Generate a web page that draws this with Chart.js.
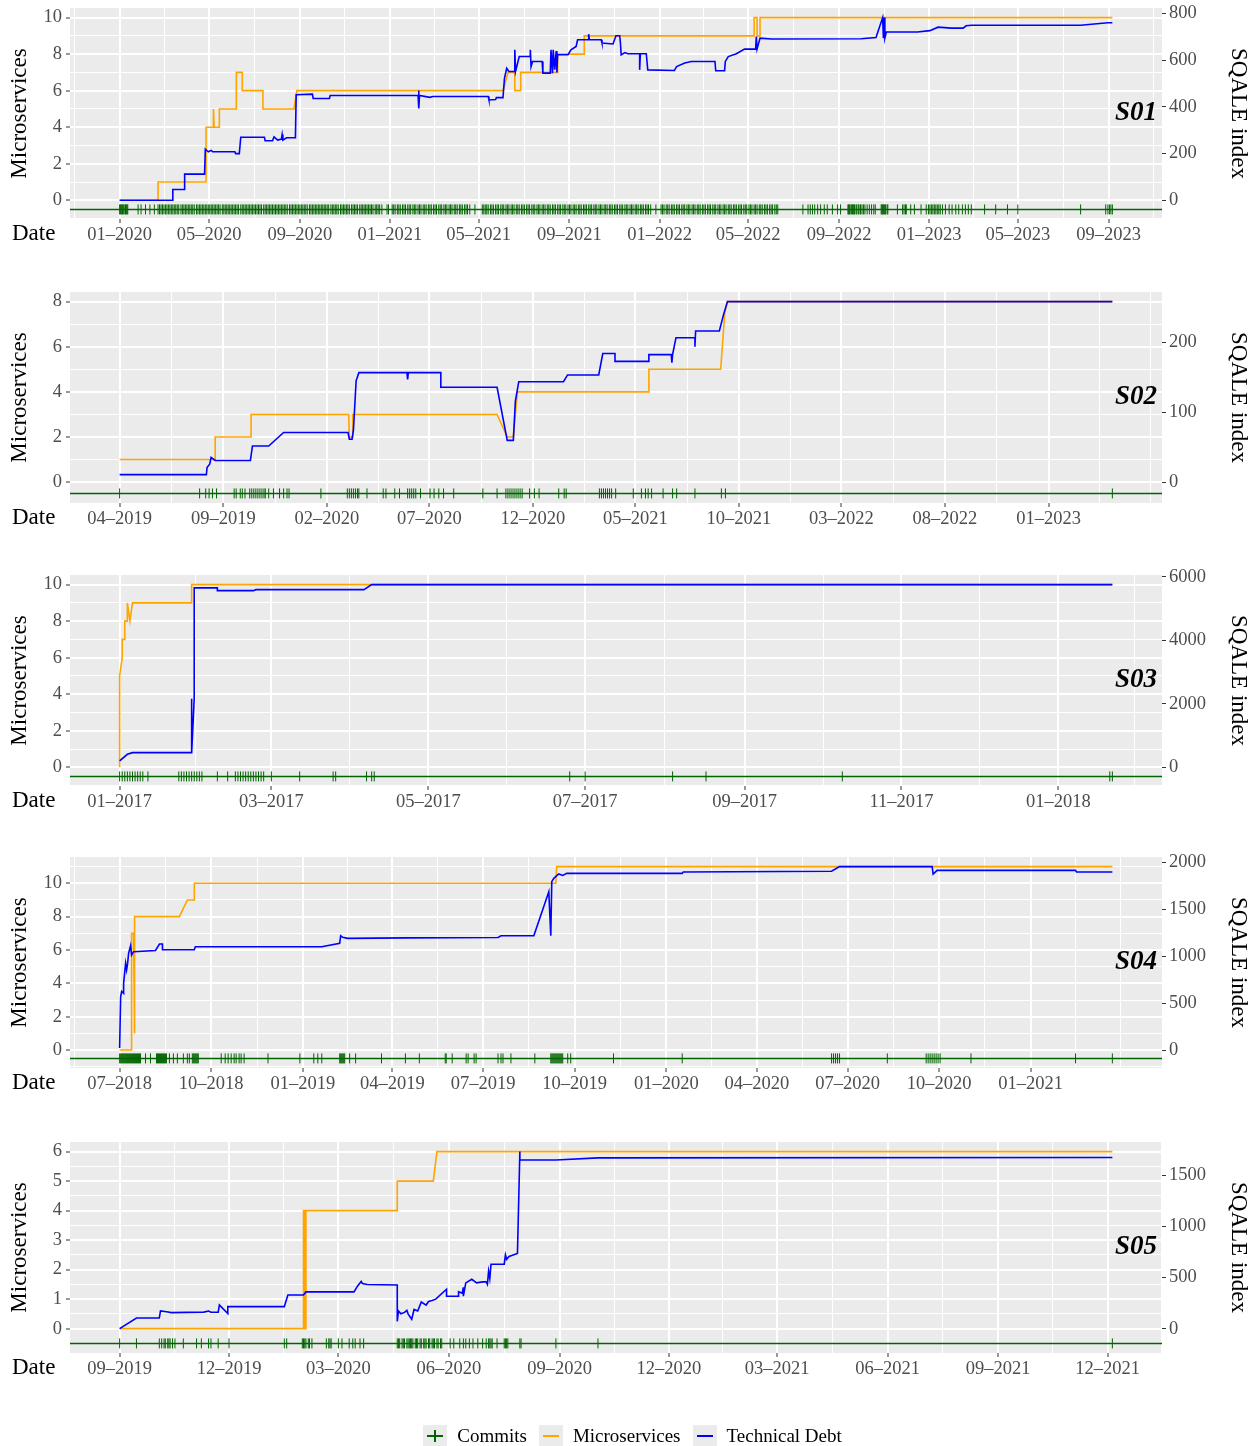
<!DOCTYPE html>
<html>
<head>
<meta charset="utf-8">
<script src="https://cdn.jsdelivr.net/npm/chart.js@4.4.0/dist/chart.umd.min.js"></script>
<style>
  body { margin: 0; background: #fff; width: 1260px; height: 1446px; position: relative; overflow: hidden; font-family: "Liberation Serif", "Times New Roman", serif; }
  canvas { position: absolute; left: 0; }
  #legend { position: absolute; top: 1425px; left: 0; width: 1265px; display: flex; justify-content: center; align-items: center; font-size: 19px; color: #000; }
  .item { display: flex; align-items: center; margin: 0 6px; }
  .key { position: relative; width: 24px; height: 22px; background: #EBEBEB; margin-right: 10px; }
  .key .h { position: absolute; left: 4px; top: 10px; width: 16px; height: 2px; }
  .key .v { position: absolute; left: 11px; top: 5px; width: 2px; height: 12px; background: #006400; }
</style>
</head>
<body>
<canvas id="c1" width="1260" height="284" style="top:0px"></canvas>
<canvas id="c2" width="1260" height="284" style="top:284px"></canvas>
<canvas id="c3" width="1260" height="284" style="top:567px"></canvas>
<canvas id="c4" width="1260" height="284" style="top:849px"></canvas>
<canvas id="c5" width="1260" height="284" style="top:1134px"></canvas>
<div id="legend">
  <div class="item"><div class="key"><div class="h" style="background:#006400"></div><div class="v"></div></div>Commits</div>
  <div class="item"><div class="key"><div class="h" style="background:#FFA500"></div></div>Microservices</div>
  <div class="item"><div class="key"><div class="h" style="background:#0000FF"></div></div>Technical Debt</div>
</div>
<script>
// ---- S01 ----
const s01Micro = [['2020-01-01',0],['2020-02-22',0],['2020-02-22',1],['2020-04-27',1],['2020-04-27',4],['2020-05-07',4],['2020-05-07',5],['2020-05-08',4],['2020-05-15',4],['2020-05-15',5],['2020-06-07',5],['2020-06-07',7],['2020-06-15',7],['2020-06-15',6],['2020-07-13',6],['2020-07-13',5],['2020-08-24',5],['2020-08-28',6],['2021-06-03',6],['2021-06-10',7],['2021-06-19',7],['2021-06-19',6],['2021-06-27',6],['2021-06-27',7],['2021-08-16',7],['2021-08-16',8],['2021-09-21',8],['2021-09-21',9],['2022-05-09',9],['2022-05-09',10],['2022-05-13',10],['2022-05-13',9],['2022-05-17',9],['2022-05-17',10],['2023-09-06',10]];
const s01Debt = [['2020-01-01',0],['2020-03-13',0],['2020-03-13',46],['2020-03-29',46],['2020-03-29',112],['2020-04-25',112],['2020-04-26',219],['2020-04-30',208],['2020-05-04',214],['2020-05-06',208],['2020-06-05',208],['2020-06-06',200],['2020-06-11',200],['2020-06-13',270],['2020-07-15',270],['2020-07-16',255],['2020-07-26',255],['2020-07-28',272],['2020-08-02',258],['2020-08-07',262],['2020-08-08',282],['2020-08-09',258],['2020-08-14',268],['2020-08-26',268],['2020-08-27',452],['2020-09-18',455],['2020-09-19',436],['2020-10-11',436],['2020-10-12',449],['2021-02-08',449],['2021-02-09',470],['2021-02-09',394],['2021-02-10',449],['2021-02-24',441],['2021-02-28',445],['2021-05-14',445],['2021-05-15',430],['2021-05-24',432],['2021-05-25',440],['2021-06-03',440],['2021-06-05',523],['2021-06-08',566],['2021-06-11',552],['2021-06-18',552],['2021-06-19',645],['2021-06-20',552],['2021-06-25',616],['2021-07-10',616],['2021-07-10',645],['2021-07-11',573],['2021-07-13',595],['2021-07-26',595],['2021-07-27',545],['2021-08-06',545],['2021-08-07',645],['2021-08-09',545],['2021-08-10',645],['2021-08-12',560],['2021-08-14',640],['2021-08-15',548],['2021-08-16',624],['2021-08-30',624],['2021-09-03',645],['2021-09-10',659],['2021-09-12',688],['2021-09-27',688],['2021-09-27',712],['2021-09-28',688],['2021-10-14',688],['2021-10-15',674],['2021-10-30',670],['2021-11-01',688],['2021-11-03',705],['2021-11-08',705],['2021-11-09',674],['2021-11-10',623],['2021-11-15',633],['2021-11-19',628],['2021-12-05',628],['2021-12-05',559],['2021-12-06',628],['2021-12-14',628],['2021-12-16',559],['2022-01-21',556],['2022-01-24',573],['2022-02-04',588],['2022-02-13',595],['2022-03-17',595],['2022-03-18',555],['2022-03-30',555],['2022-03-31',595],['2022-04-04',616],['2022-04-15',628],['2022-04-26',648],['2022-05-11',648],['2022-05-12',702],['2022-05-13',648],['2022-05-17',695],['2022-06-01',691],['2022-10-01',692],['2022-10-21',698],['2022-10-30',783],['2022-10-31',695],['2022-11-01',783],['2022-11-02',695],['2022-11-04',721],['2022-12-16',721],['2023-01-02',727],['2023-01-13',742],['2023-01-31',738],['2023-02-16',738],['2023-02-20',748],['2023-02-27',750],['2023-07-25',750],['2023-08-31',761],['2023-09-06',761]];
const s01Commits = ['2020-01: 1 2 3 4 5 6 8 9 10 11 12 26 30','2020-02: 5 11 17 22 24 26 28','2020-03: 1 3 5 7 9 11 13 15 17 19 21 24 26 28 30','2020-04: 1 3 5 7 9 11 14 16 18 20 22 24 26 28 30','2020-05: 2 4 6 8 10 12 14 16 19 21 23 25 27 29 31','2020-06: 2 4 6 8 10 13 15 17 19 21 23 25 27 29','2020-07: 1 3 5 7 9 11 14 16 18 20 22 24 26 28 30','2020-08: 1 3 5 7 9 11 13 15 18 20 22 24 26 28 30','2020-09: 1 3 5 7 9 11 14 16 18 20 22 24 26 28 30','2020-10: 2 4 6 8 10 13 15 17 19 21 23 26 28 30','2020-11: 1 3 5 7 10 12 14 16 18 21 23 25 27 29','2020-12: 1 3 5 7 9 12 14 16 18 21 28 30','2021-01: 4 6 8 11 13 15 18 20 22 25 27 29','2021-02: 1 3 5 8 10 12 15 17 19 22 24 26','2021-03: 1 3 5 8 10 12 15 17 19 22 24 26 29 31','2021-04: 2 5 7 9 12 14 16 19 26','2021-05: 6 8 10 12 14 17 19 21 24 26 28 31','2021-06: 2 4 7 9 11 14 16 18 21 23 25 28 30','2021-07: 2 5 7 9 12 14 16 19 21 23 26 28 30','2021-08: 2 4 6 9 11 13 16 18 20 23 25 27 30','2021-09: 1 3 6 8 10 13 15 17 20 22 24 27 29','2021-10: 1 4 6 8 11 13 15 18 20 22 25 27 29','2021-11: 1 3 5 8 10 12 15 17 19 22 24 26 29','2021-12: 1 3 6 8 10 13 15 17 20 27','2022-01: 3 5 7 10 12 14 17 19 21 24 26 28 31','2022-02: 2 4 7 9 11 14 16 18 21 23 25 28','2022-03: 2 4 7 9 11 14 16 18 21 23 25 28 30','2022-04: 1 4 6 8 11 13 15 18 20 22 25 27 29','2022-05: 2 4 6 9 11 13 16 18 20 23 25 27 30','2022-06: 1 3 6 8 10','2022-07: 14 21 24 27 30','2022-08: 3 7 12 16 23 30','2022-09: 3 13 14 15 16 18 19 20 21 22 24 25 27 28 30','2022-10: 2 4 6 9 12 15 18 20 28 29 30 31','2022-11: 1 2 3 5 6 19 26 28 30','2022-12: 1 7 12 21 28 31','2023-01: 2 4 6 8 10 12 14 16 19 23 28','2023-02: 1 6 10 15 19 23 27','2023-03: 17','2023-04: 1 17','2023-05: 1','2023-07: 25','2023-08: 28 31','2023-09: 2 4 6'];

// ---- S02 ----
const s02Micro = [['2019-04-01',1],['2019-08-20',1],['2019-08-20',2],['2019-10-12',2],['2019-10-12',3],['2020-03-04',3],['2020-03-05',2],['2020-03-09',2],['2020-03-10',3],['2020-10-09',3],['2020-10-24',2],['2020-11-02',2],['2020-11-08',4],['2021-05-21',4],['2021-05-21',5],['2021-09-04',5],['2021-09-10',7.5],['2021-09-14',8],['2023-04-05',8]];
const s02Debt = [['2019-04-01',10.7],['2019-08-07',10.7],['2019-08-08',21],['2019-08-12',26],['2019-08-14',35.5],['2019-08-20',31],['2019-10-11',31],['2019-10-14',51.7],['2019-11-07',51.7],['2019-11-29',71],['2020-03-03',71],['2020-03-05',61.4],['2020-03-09',61.4],['2020-03-11',74.3],['2020-03-15',145],['2020-03-19',156.7],['2020-05-29',156.7],['2020-05-30',147],['2020-05-31',156.7],['2020-07-18',156.7],['2020-07-18',135.7],['2020-10-09',135.7],['2020-10-24',59.8],['2020-11-02',59.8],['2020-11-05',116],['2020-11-10',143.7],['2021-01-15',143.7],['2021-01-21',153.4],['2021-03-08',153.4],['2021-03-14',184],['2021-04-01',184],['2021-04-01',172.8],['2021-05-21',172.8],['2021-05-21',182.5],['2021-06-23',182.5],['2021-06-24',171],['2021-06-25',182.5],['2021-06-30',206.7],['2021-07-28',206.7],['2021-07-28',193.8],['2021-07-29',216.4],['2021-09-02',216.4],['2021-09-08',239],['2021-09-14',258.4],['2023-04-05',258.4]];
const s02Commits = ['2019-04: 1','2019-07: 28','2019-08: 6 11 16 22','2019-09: 17 20 26 29','2019-10: 3 10 13 16 19 22 25 28 31','2019-11: 2 7 14 23 29','2019-12: 4 7','2020-01: 23','2020-03: 2 5 8 11 14 17 19 31','2020-04: 24 28','2020-05: 11 18 30','2020-06: 2 5 8 11 18','2020-07: 2 8 15 22','2020-08: 6','2020-09: 18','2020-10: 9 22 25 28 31','2020-11: 3 6 9 12 15 26','2020-12: 3 10','2021-01: 8 16 19','2021-03: 9 12 15 18 21 24 27','2021-04: 2 28','2021-05: 10 16 20 25','2021-06: 11 25','2021-07: 1 28','2021-09: 5 11','2023-04: 5'];

// ---- S03 ----
const s03Micro = [['2017-01-01',0],['2017-01-01',5],['2017-01-02',6],['2017-01-02',7],['2017-01-03',7],['2017-01-03',8],['2017-01-04',8],['2017-01-04',9],['2017-01-05',8],['2017-01-06',9],['2017-01-29',9],['2017-01-29',10],['2018-01-22',10]];
const s03Debt = [['2017-01-01',201],['2017-01-04',408],['2017-01-06',460],['2017-01-29',460],['2017-01-29',2156],['2017-01-29',460],['2017-01-30',2156],['2017-01-30',5647],['2017-02-08',5647],['2017-02-08',5560],['2017-02-22',5560],['2017-02-23',5590],['2017-04-06',5590],['2017-04-09',5750],['2018-01-22',5750]];
const s03Commits = ['2017-01: 1 2 3 4 5 6 7 8 9 10 12 24 25 26 27 28 29 30 31','2017-02: 1 2 8 12 15 16 17 18 19 20 21 22 23 24 25 26','2017-03: 1 12 25 26','2017-04: 7 9 10','2017-06: 25','2017-07: 1','2017-08: 4 17','2017-10: 9','2018-01: 21 22'];

// ---- S04 ----
const s04Micro = [['2018-07-01',0],['2018-07-13',0],['2018-07-13',7],['2018-07-15',7],['2018-07-16',1],['2018-07-16',8],['2018-08-30',8],['2018-09-07',9],['2018-09-14',9],['2018-09-14',10],['2019-09-12',10],['2019-09-13',11],['2021-03-24',11]];
const s04Debt = [['2018-07-01',21],['2018-07-02',568],['2018-07-03',625],['2018-07-05',604],['2018-07-05',710],['2018-07-07',923],['2018-07-08',853],['2018-07-09',923],['2018-07-10',1030],['2018-07-12',1112],['2018-07-13',1012],['2018-07-15',1048],['2018-08-06',1060],['2018-08-10',1130],['2018-08-13',1130],['2018-08-13',1069],['2018-09-14',1069],['2018-09-15',1101],['2019-01-20',1101],['2019-02-07',1137],['2019-02-08',1218],['2019-02-10',1201],['2019-02-15',1190],['2019-04-15',1195],['2019-07-16',1199],['2019-07-19',1218],['2019-08-21',1218],['2019-09-05',1687],['2019-09-07',1218],['2019-09-08',1794],['2019-09-10',1829],['2019-09-15',1875],['2019-09-19',1860],['2019-09-23',1882],['2020-01-17',1882],['2020-01-18',1897],['2020-06-15',1904],['2020-06-23',1954],['2020-09-24',1954],['2020-09-25',1875],['2020-09-29',1914],['2021-02-15',1914],['2021-02-16',1897],['2021-03-24',1897]];
const s04Commits = ['2018-07: 1 2 3 4 5 6 7 8 9 10 11 12 13 14 15 16 17 18 19 20 21 22 27','2018-08: 1 7 8 9 10 11 12 13 14 15 16 17 20 24 28','2018-09: 3 7 9 12 13 14 15 16 17 18','2018-10: 11 15 18 21 24 26 29 31','2018-11: 3 27','2018-12: 29','2019-01: 12 16 20','2019-02: 7 8 9 10 11 12 17 23','2019-03: 21','2019-04: 14 28','2019-05: 24 25 31','2019-06: 14 16 22 24','2019-07: 16 19 21 29','2019-08: 22','2019-09: 7 8 9 10 11 12 13 14 15 16 17 18 19 24 27','2019-11: 9','2020-01: 17','2020-06: 15 17 19 21 23','2020-08: 10','2020-09: 18 20 22 24 26 28 30','2020-10: 2','2020-11: 2','2021-02: 15','2021-03: 24'];

// ---- S05 ----
const s05Micro = [['2019-09-01',0],['2020-02-01',0],['2020-02-01',4],['2020-02-02',4],['2020-02-02',0],['2020-02-03',0],['2020-02-03',4],['2020-04-19',4],['2020-04-19',5],['2020-05-19',5],['2020-05-22',6],['2021-12-05',6]];
const s05Debt = [['2019-09-01',0],['2019-09-15',104],['2019-10-04',104],['2019-10-05',173],['2019-10-10',165],['2019-10-14',157],['2019-11-10',162],['2019-11-14',173],['2019-11-16',160],['2019-11-22',160],['2019-11-23',232],['2019-11-30',147],['2019-11-30',216],['2020-01-16',216],['2020-01-19',330],['2020-02-01',330],['2020-02-03',360],['2020-03-14',360],['2020-03-17',419],['2020-03-20',462],['2020-03-21',442],['2020-03-25',433],['2020-04-19',428],['2020-04-19',72],['2020-04-20',173],['2020-04-22',145],['2020-04-25',159],['2020-04-27',179],['2020-04-28',145],['2020-05-01',92],['2020-05-03',188],['2020-05-06',173],['2020-05-09',261],['2020-05-13',231],['2020-05-15',266],['2020-05-18',275],['2020-05-21',289],['2020-05-30',386],['2020-05-30',318],['2020-06-09',318],['2020-06-09',361],['2020-06-12',347],['2020-06-13',405],['2020-06-13',318],['2020-06-15',448],['2020-06-20',483],['2020-06-24',448],['2020-06-29',458],['2020-07-02',458],['2020-07-03',434],['2020-07-04',563],['2020-07-05',491],['2020-07-06',631],['2020-07-17',631],['2020-07-18',723],['2020-07-19',679],['2020-07-21',707],['2020-07-28',736],['2020-07-30',1734],['2020-07-30',1652],['2020-08-29',1652],['2020-10-03',1672],['2021-12-05',1676]];
const s05Commits = ['2019-09: 1 15','2019-10: 4 6 8 9 11 12 13 15 17 24','2019-11: 4 8 14 16 22','2019-12: 1','2020-01: 16 18 31','2020-02: 1 2 3 5 6 8 20 22 23 24','2020-03: 1 4 10 13 15 19 22','2020-04: 19 20 21 23 24 25 27 28 29 30','2020-05: 1 2 4 5 6 8 9 11 12 13 15 16 18 19 20 22 23 25 26','2020-06: 2 5 10 13 15 18 21 25 29','2020-07: 2 4 5 6 7 11 17 18 19 20 30 31','2020-08: 29','2020-10: 3','2021-12: 5'];

const panels = [
  { id: 'c1', name: 'S01', micro: s01Micro, debt: s01Debt, commits: s01Commits, firstTick: [2020, 1], monthStep: 4, yStep: 2, rStep: 200 },
  { id: 'c2', name: 'S02', micro: s02Micro, debt: s02Debt, commits: s02Commits, firstTick: [2019, 4], monthStep: 5, yStep: 2, rStep: 100 },
  { id: 'c3', name: 'S03', micro: s03Micro, debt: s03Debt, commits: s03Commits, firstTick: [2017, 1], monthStep: 2, yStep: 2, rStep: 2000 },
  { id: 'c4', name: 'S04', micro: s04Micro, debt: s04Debt, commits: s04Commits, firstTick: [2018, 7], monthStep: 3, yStep: 2, rStep: 500 },
  { id: 'c5', name: 'S05', micro: s05Micro, debt: s05Debt, commits: s05Commits, firstTick: [2019, 9], monthStep: 3, yStep: 1, rStep: 500 }
];

Chart.defaults.font.family = '"Liberation Serif", "Times New Roman", serif';
Chart.defaults.animation = false;

function toDay(s) {
  const [y, m, d] = s.split('-').map(Number);
  return Date.UTC(y, m - 1, d) / 864e5;
}
function fmtMonth(day) {
  const dt = new Date(day * 864e5);
  return String(dt.getUTCMonth() + 1).padStart(2, '0') + '\u2013' + dt.getUTCFullYear();
}
function expandCommits(rows) {
  const out = [];
  rows.forEach(r => {
    const [ym, days] = r.split(':');
    days.trim().split(/\s+/).forEach(d => out.push(toDay(ym + '-' + d)));
  });
  return out;
}

// labelled ticks every n months inside the data span, thin lines half way and beyond it
function monthTicks(scale, first, step, lo, hi) {
  const majors = [];
  for (let i = -4; i < 40; i++) majors.push(Date.UTC(first[0], first[1] - 1 + i * step, 1) / 864e5);
  const ticks = [];
  majors.forEach((v, i) => {
    if (i > 0) {
      const mid = (v + majors[i - 1]) / 2;
      if (mid >= scale.min && mid <= scale.max) ticks.push({ value: mid, minor: true });
    }
    if (v >= scale.min && v <= scale.max) ticks.push({ value: v, minor: v < lo || v > hi });
  });
  scale.ticks = ticks;
}
function numTicks(scale, step, withMinor) {
  const ticks = [];
  const h = withMinor ? step / 2 : step;
  for (let i = Math.ceil(scale.min / h); i <= Math.floor(scale.max / h); i++) {
    ticks.push({ value: i * h, minor: withMinor && Math.abs(i % 2) === 1 });
  }
  scale.ticks = ticks;
}

const gridOpts = {
  color: '#FFFFFF',
  lineWidth: c => (c.tick && c.tick.minor ? 1 : 2),
  tickColor: c => (c.tick && c.tick.minor ? 'rgba(0,0,0,0)' : '#333333'),
  tickWidth: 1,
  tickLength: 4
};
const tickFont = { size: 18.5 };
const labelOf = (v, i, t) => (t[i].minor ? '' : String(v));

const panelDecor = {
  id: 'panelDecor',
  beforeDraw(chart) {
    const { ctx, chartArea: a } = chart;
    ctx.save();
    ctx.fillStyle = '#EBEBEB';
    ctx.fillRect(a.left, a.top, a.right - a.left, a.bottom - a.top);
    ctx.restore();
  },
  afterDraw(chart, args, opts) {
    const { ctx, chartArea: a } = chart;
    ctx.save();
    ctx.fillStyle = '#000';
    ctx.font = 'italic bold 27px "Liberation Serif"';
    ctx.textAlign = 'right';
    ctx.textBaseline = 'middle';
    ctx.fillText(opts.name, a.right - 5, (a.top + a.bottom) / 2);
    ctx.font = '23px "Liberation Serif"';
    ctx.textAlign = 'left';
    ctx.fillText('Date', 12, a.bottom + 15);
    ctx.restore();
  }
};

function buildPanel(p) {
  const micro = p.micro.map(([d, v]) => ({ x: toDay(d), y: v }));
  const debt = p.debt.map(([d, v]) => ({ x: toDay(d), y: v }));
  const commits = expandCommits(p.commits).map(x => ({ x: x, y: -0.5 }));
  const xs = micro.concat(debt, commits).map(pt => pt.x);
  const lo = Math.min(...xs), hi = Math.max(...xs);
  const xMin = lo - (hi - lo) * 0.05, xMax = hi + (hi - lo) * 0.05;
  const top = Math.max(...micro.map(pt => pt.y));
  const k = Math.max(...debt.map(pt => pt.y)) / top;
  const yMin = -0.5 - (top + 0.5) * 0.05, yMax = top + (top + 0.5) * 0.05;

  new Chart(document.getElementById(p.id), {
    type: 'line',
    data: {
      datasets: [
        { label: 'Commits line', data: [{ x: xMin, y: -0.5 }, { x: xMax, y: -0.5 }], borderColor: '#006400', borderWidth: 1.5, pointRadius: 0, order: 4 },
        { label: 'Commits', data: commits, showLine: false, pointStyle: 'line', rotation: 90, pointRadius: 5, borderColor: '#006400', backgroundColor: '#006400', borderWidth: 1, order: 3 },
        { label: 'Microservices', data: micro, borderColor: '#FFA500', borderWidth: 1.6, pointRadius: 0, order: 2 },
        { label: 'Technical Debt', data: debt, yAxisID: 'y2', borderColor: '#0000FF', borderWidth: 1.6, pointRadius: 0, order: 1 }
      ]
    },
    options: {
      responsive: false,
      animation: false,
      layout: { padding: { top: 8, left: 0, right: 0, bottom: 0 } },
      plugins: { legend: { display: false }, tooltip: { enabled: false }, panelDecor: { name: p.name } },
      scales: {
        x: {
          type: 'linear', min: xMin, max: xMax,
          afterBuildTicks: s => monthTicks(s, p.firstTick, p.monthStep, lo, hi),
          afterFit: s => { s.height = 65; s.paddingLeft = 0; s.paddingRight = 0; },
          grid: gridOpts,
          border: { display: false },
          ticks: { autoSkip: false, maxRotation: 0, padding: 1, color: '#4D4D4D', font: tickFont, callback: (v, i, t) => (t[i].minor ? '' : fmtMonth(v)) }
        },
        y: {
          position: 'left', min: yMin, max: yMax,
          afterBuildTicks: s => numTicks(s, p.yStep, true),
          afterFit: s => { s.width = 70; s.paddingTop = 0; s.paddingBottom = 0; },
          grid: gridOpts,
          border: { display: false },
          ticks: { autoSkip: false, padding: 4, color: '#4D4D4D', font: tickFont, callback: labelOf },
          title: { display: true, text: 'Microservices', color: '#000', font: { size: 23 }, padding: { top: 6, bottom: 0 } }
        },
        y2: {
          position: 'right', min: yMin * k, max: yMax * k,
          afterBuildTicks: s => numTicks(s, p.rStep, false),
          afterFit: s => { s.width = 98; s.paddingTop = 0; s.paddingBottom = 0; },
          grid: { drawOnChartArea: false, tickColor: '#333333', tickWidth: 1, tickLength: 4 },
          border: { display: false },
          ticks: { autoSkip: false, padding: 3, color: '#4D4D4D', font: tickFont, callback: labelOf },
          title: { display: true, text: 'SQALE index', color: '#000', font: { size: 23 }, padding: { top: 8, bottom: 0 } }
        }
      }
    },
    plugins: [panelDecor]
  });
}

panels.forEach(buildPanel);
</script>
</body>
</html>
